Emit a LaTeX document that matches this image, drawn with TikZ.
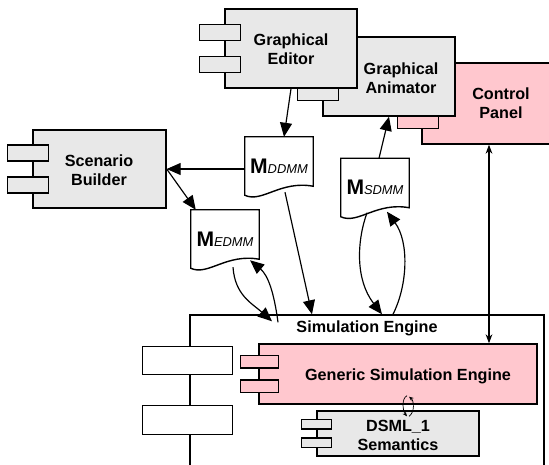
\documentclass[tikz,border=0pt]{standalone}
\usepackage{fontspec}
\setmainfont{Liberation Sans}
\usetikzlibrary{arrows.meta, calc, positioning}
\definecolor{compGray}{HTML}{E8E8E8}
\definecolor{compPink}{HTML}{FFC7CE}
\newlength{\px}
\setlength{\px}{0.03cm}
\tikzset{
  comp/.style={draw=black, line width=1.2pt, fill=#1, inner sep=0pt},
  tabbox/.style={draw=black, line width=1.2pt, fill=#1},
  compname/.style={font=\fontsize{13.8}{16.2}\selectfont\bfseries, align=center, inner sep=0pt},
  docnode/.style={minimum width=68*\px, minimum height=58*\px, inner sep=0pt},
  docframe/.style={draw=black, line width=1.2pt, fill=white},
  arrow/.style={-{Triangle[length=0.42cm, width=0.36cm]}, line width=1pt},
  dblarrow/.style={{Stealth[length=0.27cm, width=0.2cm]}-{Stealth[length=0.27cm, width=0.2cm]}, line width=1pt},
  tinyarrow/.style={-{Stealth[length=0.14cm, width=0.12cm]}, line width=0.6pt},
}
% component tabs: node, outside part, inside part, fill
\newcommand{\comptabs}[4]{%
  \draw[tabbox=#4] ($(#1.north west)!0.2!(#1.south west)+(-#2,0)$) rectangle ($(#1.north west)!0.4!(#1.south west)+(#3,0)$);
  \draw[tabbox=#4] ($(#1.north west)!0.6!(#1.south west)+(-#2,0)$) rectangle ($(#1.north west)!0.8!(#1.south west)+(#3,0)$);
}
\newcommand{\mdoc}[1]{{\fontsize{18}{18}\selectfont\bfseries M}{\fontsize{11}{11}\selectfont\itshape #1}}
% model document: name, position, subscript
\newcommand{\modeldoc}[3]{%
  \node[docnode] (#1) at (#2) {};
  \draw[docframe] (#1.south west) -- (#1.north west) -- (#1.north east) -- ($(#1.south east)+(0,-9)$)
    .. controls +(-33,-6) and ($(#1.south west)+(17,8)$) .. (#1.south west) -- cycle;
  \node (#1-text) at (#1) {\mdoc{#3}};
}

\begin{document}
\begin{tikzpicture}[x=0.03cm, y=-0.03cm]
\useasboundingbox (0,0) rectangle (549,464);
\clip (0,0) rectangle (549,464);

% tools
\node[comp=compPink, minimum width=158*\px, minimum height=81*\px] (cp) at (501,103.5) {};
\comptabs{cp}{24}{17}{compPink}
\node[compname] (cp-name) at (501,103) {Control\\Panel};

\node[comp=compGray, minimum width=132*\px, minimum height=79*\px] (ga) at (389,76.5) {};
\comptabs{ga}{25}{16}{compGray}
\node[compname] (ga-name) at (401,78) {Graphical\\Animator};

\node[comp=compGray, minimum width=132*\px, minimum height=79*\px] (ge) at (291,48.5) {};
\comptabs{ge}{25}{16}{compGray}
\node[compname] (ge-name) at (291,49) {Graphical\\Editor};

\node[comp=compGray, minimum width=133*\px, minimum height=78*\px] (sb) at (99.5,169) {};
\comptabs{sb}{25}{16}{compGray}
\node[compname] (sb-name) at (99,170) {Scenario\\Builder};

% simulation engine
\node[draw=black, line width=1.2pt, minimum width=354*\px, minimum height=200*\px, inner sep=0pt] (se) at (367,415) {};
\draw[tabbox=white] ($(se.north west)+(-47,32)$) rectangle +(90,28);
\draw[tabbox=white] ($(se.north west)+(-47,91)$) rectangle +(90,29);
\node[compname] (se-name) at (367,328) {Simulation Engine};

\node[comp=compPink, minimum width=278*\px, minimum height=60*\px] (gse) at (398,374) {};
\comptabs{gse}{18}{20}{compPink}
\node[compname] (gse-name) at (408,376) {Generic Simulation Engine};

\node[comp=compGray, minimum width=162*\px, minimum height=45*\px] (ds) at (398,433.5) {};
\comptabs{ds}{15}{15}{compGray}
\node[compname] (ds-name) at (398,435) {DSML\_1\\Semantics};

% models
\modeldoc{ddmm}{279,166}{DDMM}
\modeldoc{sdmm}{375,187.5}{SDMM}
\modeldoc{edmm}{225,239}{EDMM}

% connectors
\draw[arrow] (ge.south) -- ($(ddmm.north)+(5,0)$);
\draw[arrow] (ddmm.west |- sb.east) -- (sb.east);
\draw[arrow] (sb.east) -- ($(edmm.north west)+(5,0)$);
\draw[arrow] ($(ddmm.south)+(6,-3)$) -- ($(se.north)+(-55,0)$);
\draw[arrow] ($(sdmm.north)+(4,0)$) -- (ga.south);
\draw[arrow] ($(sdmm.south)+(-8,-4)$) .. controls +(-10,28) and +(-27,-35) .. ($(se.north)+(15,0)$);
\draw[arrow] ($(se.north)+(26,0)$) .. controls +(15,-30) and +(22,30) .. ($(sdmm.south)+(12,-5)$);
\draw[arrow] ($(edmm.south)+(8,-1)$) .. controls +(2,28) and +(-20,-18) .. ($(se.north)+(-95,7)$);
\draw[arrow] ($(se.north)+(-89,8)$) .. controls +(-4,-30) and +(18,15) .. ($(edmm.south)+(25,-8)$);
\draw[dblarrow] ($(cp.south)+(-12,0)$) -- ($(gse.north)+(91,0)$);
\draw[tinyarrow] ($(gse.south)+(9,-9)$) .. controls +(-6,3) and +(-4,-5) .. ($(ds.north)+(9,6)$);
\draw[tinyarrow] ($(ds.north)+(11,6)$) .. controls +(6,-4) and +(5,4) .. ($(gse.south)+(11,-8)$);
\end{tikzpicture}
\end{document}
